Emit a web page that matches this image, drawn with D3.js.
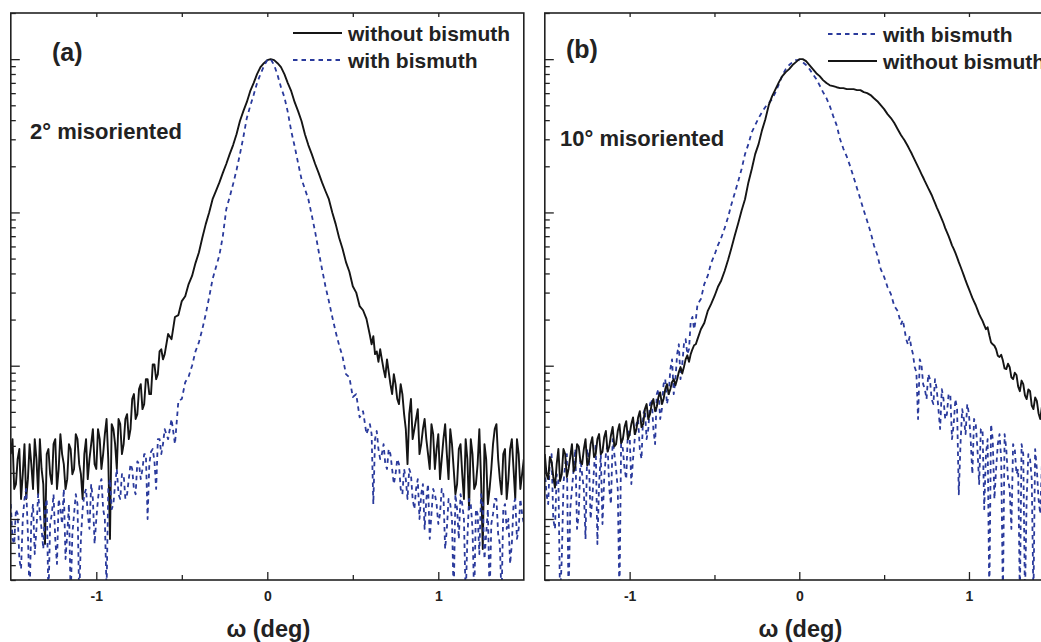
<!DOCTYPE html>
<html><head><meta charset="utf-8">
<script src="https://cdn.jsdelivr.net/npm/d3@7"></script>
<style>
body{margin:0;background:#fff;}
svg{display:block;font-family:"Liberation Sans",Arial,Helvetica,sans-serif;font-weight:bold;}
</style>
</head><body>
<svg id="chart" width="1041" height="642"></svg>
<script>
// omega sampling (deg): main grid every 0.02, plus extra tail samples at the odd hundredths
const omega = d3.range(151).map(i => Math.round((-1.5 + i * 0.02) * 100) / 100);
const omegaTails = d3.range(45).map(i => Math.round((-1.49 + i * 0.02) * 100) / 100)
  .concat(d3.range(45).map(i => Math.round((0.61 + i * 0.02) * 100) / 100));

// Panel (a) 2° misoriented
const noBismuthA = [
 2.65,1.57,2.46,1.35,3.08,1.82,2.28,3.32,1.45,2.12,
 0.687,2.86,1.69,3.32,2.12,2.65,1.57,3.08,1.96,3.58,
 2.28,1.35,3.32,2.46,3.86,2.12,3.32,2.65,4.49,0.741,
 3.86,2.12,4.16,3.08,4.83,3.86,6.53,4.83,7.58,5.62,
 8.17,6.53,10.2,8.81,12.8,11.9,16.1,14.9,20.8,21.4,
 26.4,28.4,34.1,38.5,46.7,54.8,68.4,83.9,100,122,
 138,157,181,207,240,275,324,395,458,524,
 618,698,798,886,941,985,1000,985,941,886,
 798,698,618,524,458,395,324,275,240,207,
 181,157,138,122,100,83.9,68.4,58,47.4,41,
 33,30,24.5,23,20.2,15.8,15.6,12.4,12.8,9.5,
 11.0,7.58,8.81,6.06,7.58,4.83,2.28,6.06,3.86,5.21,
 3.08,4.49,2.65,4.16,2.12,3.58,2.46,4.16,1.82,3.08,
 1.45,2.86,1.96,3.32,1.16,2.65,1.69,3.86,0.637,2.46,
 1.57,3.08,4.16,1.82,2.65,1.35,2.86,2.12,3.32,1.57,
 2.46];
const noBismuthATails = [
 3.32,1.69,2.86,1.96,1.35,3.08,1.57,2.46,3.32,1.69,
 2.65,1.96,3.08,1.57,3.58,2.28,1.82,2.86,2.12,3.32,
 1.96,2.65,1.82,3.08,2.28,3.86,2.12,3.58,2.46,4.16,
 3.08,4.49,2.65,4.49,3.32,6.06,4.49,7.04,5.21,8.17,
 6.53,10.2,8.17,12.4,11.0,
 13.8,11.9,10.6,11.0,8.4,9.1,6.53,7.58,5.62,6.53,
 3.86,4.83,3.32,4.49,2.65,3.86,3.32,2.12,3.58,2.86,
 1.82,3.32,2.65,3.86,2.12,1.69,3.08,1.35,2.46,3.32,
 1.57,2.28,1.82,3.08,1.25,2.12,3.86,2.46,1.45,2.86,
 1.82,3.32,1.35,2.65,1.96];
const withBismuthA = [
 1.25,0.687,1.08,0.472,1.35,0.798,1.00,0.591,1.45,0.861,
 1.16,0.30,1.08,0.741,1.35,0.928,0.548,1.25,0.798,1.45,
 0.30,1.16,1.57,0.861,1.35,1.00,1.69,1.16,0.34,1.82,
 1.25,2.12,1.35,1.96,1.45,2.28,1.57,2.38,1.82,2.65,
 1.00,2.75,2.38,3.32,2.65,3.86,3.32,4.49,3.08,5.9,
 6.06,7.8,8.5,10,12.4,14.2,17.3,21.7,28,36.7,
 44,52.7,70,105,126,153,189,240,310,412,
 494,583,698,798,900,985,1000,915,787,656,
 565,451,339,270,210,165,142,122,96,74.5,
 56,42.7,33,26.4,20.8,16.6,13.6,11.5,8.81,8.4,
 6.25,6.53,4.6,5.05,3.58,4.16,1.25,3.75,2.46,3.08,
 2.12,2.65,1.69,2.46,1.57,2.12,1.35,1.96,1.16,1.82,
 1.45,0.861,1.69,1.08,1.45,0.928,1.57,0.637,1.35,1.00,
 1.45,0.741,1.25,0.30,1.35,0.861,1.16,0.591,1.25,0.798,
 0.30,1.08,1.35,0.687,1.16,0.861,0.509,1.25,0.741,1.35,
 0.928];
const withBismuthATails = [
 0.741,1.16,0.548,1.00,1.57,0.30,1.25,0.861,1.08,0.637,
 1.35,0.928,1.45,0.509,1.16,1.57,0.798,0.30,1.08,1.25,
 0.741,1.45,1.08,1.69,0.687,1.35,1.82,1.00,1.57,1.16,
 1.69,1.45,1.96,1.35,1.82,2.12,1.45,2.28,2.12,2.65,
 2.28,2.86,1.57,3.32,3.08,
 3.58,3.32,2.86,2.65,2.28,2.86,2.12,1.96,2.28,1.45,
 1.82,2.12,1.35,1.57,1.00,1.69,1.35,0.741,1.57,1.25,
 1.08,1.45,0.861,1.25,0.30,1.16,1.45,1.00,0.741,1.25,
 0.30,1.08,1.45,0.548,1.16,0.928,1.35,0.798,0.30,1.25,
 1.00,0.687,1.35,0.861,1.08];

// Panel (b) 10° misoriented
const noBismuthB = [
 2.65,1.82,2.38,1.6,2.86,1.96,2.65,2.12,3.08,2.2,
 2.97,2.28,3.32,2.38,3.42,2.65,3.58,2.75,3.75,2.97,
 3.98,3.08,4.16,3.32,4.35,3.58,4.6,3.86,5.05,4.16,
 5.62,4.83,6.06,5.4,6.7,6.06,7.58,7.04,8.17,8.17,
 9.8,9.8,11.7,11.9,13.6,14.9,17.3,19,22.7,25.2,
 28.4,32.6,36,41.5,48.9,58.6,71,85,103,122,
 157,192,240,279,343,406,501,574,637,708,
 775,823,861,915,956,1000,1000,970,915,861,
 810,775,730,698,675,666,656,647,647,637,
 637,637,628,628,609,600,583,556,532,501,
 472,438,413,383,349,319,296,270,245,220,
 198,178,160,144,130,115,102,90.4,79,70,
 61,54.5,47.4,41.5,36,31.6,27.7,24.8,21.7,19.6,
 17.3,15.8,13.8,12.8,11.4,10.8,9.5,9.8,8.17,8.7,
 6.82,7.58,6.06,6.82,5.21,5.9,4.49,5.05,4.16,4.6,
 3.75];
const noBismuthBTails = [
 1.96,2.54,1.88,2.28,1.77,2.86,1.88,2.54,2.04,3.08,
 2.38,2.86,2.24,3.08,2.54,3.32,2.65,3.42,2.75,3.52,
 2.97,3.75,3.13,3.98,3.32,4.16,3.58,4.6,3.98,5.21,
 4.49,5.62,5.05,6.25,5.62,7.04,6.53,7.82,7.46,9.1,
 8.9,11.0,10.6,12.8,13.8,
 307,283,257,232,209,188,169,152,137,122,
 108,96,85,74.5,65.5,57.8,50.9,44.4,38.7,33.7,
 29.6,26.2,23.2,20.6,18.4,17.8,14.2,13.5,11.6,11.8,
 9.6,10.3,8.4,9.0,7.3,8.0,6.4,7.0,5.5,6.2,
 4.9,5.4,4.4,4.9,3.9];
const withBismuthB = [
 2.12,1.25,2.65,0.861,1.82,0.548,2.28,0.30,1.57,2.86,
 1.08,1.96,0.741,2.46,1.35,3.08,1.69,0.928,2.65,1.57,
 3.32,2.12,0.30,2.86,1.82,3.58,2.46,4.16,2.86,4.83,
 3.32,5.62,3.86,6.53,4.49,7.58,5.62,9.5,6.53,11.9,
 8.17,13.8,11.9,19.5,17.3,25.2,27.2,34.1,38.5,46.7,
 52.7,61,68.4,79,93,113,134,160,192,240,
 279,334,371,412,451,487,517,548,609,687,
 787,861,915,956,985,985,956,915,861,798,
 741,675,609,556,494,425,371,301,260,231,
 200,170,144,122,103,88,74.5,61,52.7,42.7,
 38,32.6,29.3,24.5,22.7,18.7,17.3,13.8,13.2,9.8,
 4.49,10.2,7.04,8.81,6.06,8.17,5.21,7.04,4.49,6.53,
 3.32,6.06,1.45,5.21,3.58,4.83,1.96,4.16,1.69,3.86,
 2.65,0.30,3.32,2.12,3.58,0.30,2.86,1.57,3.08,1.96,
 0.30,2.65,1.35,2.46,0.30,2.12,1.08,2.46,1.45,2.12,
 1.00];
const withBismuthBTails = [
 1.45,2.46,1.00,1.96,0.30,1.69,2.65,1.16,2.12,0.861,
 2.46,1.57,2.86,1.00,2.12,0.687,2.65,1.82,3.08,1.25,
 2.65,1.57,3.32,2.12,3.86,1.69,3.32,4.49,2.46,5.21,
 3.86,6.06,3.08,7.04,5.21,8.17,6.53,11.0,8.17,13.8,
 10.2,14.9,12.8,20.8,19.9,
 19.9,14.9,15.4,11.9,9.1,11.0,7.58,6.06,8.17,5.62,
 7.04,3.86,6.06,4.83,6.53,4.16,5.21,3.08,4.49,5.62,
 3.32,4.49,2.86,3.86,1.16,3.32,4.16,1.35,3.08,2.46,
 3.58,1.82,0.861,2.86,2.12,3.08,0.30,2.65,1.82,2.86,
 1.35,2.28,0.30,2.46,1.57];

const xTickValues = [-1, 0, 1];
const xTickLabels = ["-1", "0", "1"];
const xMinorValues = [-0.5, 0.5];
const yMajorValues = [1, 10, 100, 1000];
const xDomain = [-1.5, 1.5];
const yDomain = [0.4, 2000];

const seriesNames = ["without bismuth", "with bismuth"];
const BLACK = "#151515", BLUE = "#2a3a9c";

const svg = d3.select("#chart");

const panels = [
  { id: "a", left: 10.8, right: 523.8, label: "(a)", labelX: 52, labelY: 61,
    note: "2\u00b0 misoriented", noteX: 30, noteY: 139,
    order: [{name: seriesNames[0], data: noBismuthA, tails: noBismuthATails, kind: "solid"},
            {name: seriesNames[1], data: withBismuthA, tails: withBismuthATails, kind: "dash"}],
    legX: 293, legY: 33 },
  { id: "b", left: 544.8, right: 1053.8, label: "(b)", labelX: 566, labelY: 58,
    note: "10\u00b0 misoriented", noteX: 560, noteY: 146,
    order: [{name: seriesNames[1], data: withBismuthB, tails: withBismuthBTails, kind: "dash"},
            {name: seriesNames[0], data: noBismuthB, tails: noBismuthBTails, kind: "solid"}],
    legX: 828, legY: 34 }
];
const plotTop = 13, plotBottom = 580;

const yMinorValues = [];
[0.1, 1, 10, 100, 1000].forEach(dec => {
  for (let m = 2; m <= 9; m++) { const v = m * dec; if (v >= yDomain[0] && v <= yDomain[1]) yMinorValues.push(v); }
});

function styleLine(sel, kind) {
  if (kind === "solid") sel.attr("stroke", BLACK).attr("stroke-width", 1.9);
  else sel.attr("stroke", BLUE).attr("stroke-width", 1.8).attr("stroke-dasharray", "4.5,4");
  return sel;
}

panels.forEach(p => {
  const x = d3.scaleLinear().domain(xDomain).range([p.left, p.right]);
  const y = d3.scaleLog().domain(yDomain).range([plotBottom, plotTop]);
  const g = svg.append("g");

  g.append("clipPath").attr("id", "clip-" + p.id)
    .append("rect").attr("x", p.left).attr("y", plotTop)
    .attr("width", p.right - p.left).attr("height", plotBottom - plotTop);

  const line = d3.line().x(d => x(d[0])).y(d => y(d[1]));
  const plot = g.append("g").attr("clip-path", `url(#clip-${p.id})`);
  p.order.forEach(s => {
    const pts = omega.map((w, i) => [w, s.data[i]])
      .concat(omegaTails.map((w, i) => [w, s.tails[i]]))
      .sort((a, b) => a[0] - b[0]);
    styleLine(plot.append("path").datum(pts).attr("fill", "none")
      .attr("stroke-linejoin", "round").attr("d", line), s.kind);
  });

  const axStyle = a => { a.select(".domain").remove(); a.selectAll("line").attr("stroke", "#222").attr("stroke-width", 1.3); };
  g.append("g").attr("transform", `translate(${p.left},0)`)
    .call(d3.axisLeft(y).tickValues(yMajorValues).tickSize(-9).tickFormat("")).call(axStyle);
  g.append("g").attr("transform", `translate(${p.left},0)`)
    .call(d3.axisLeft(y).tickValues(yMinorValues).tickSize(-5).tickFormat("")).call(axStyle);
  const bx = g.append("g").attr("transform", `translate(0,${plotBottom})`)
    .call(d3.axisBottom(x).tickValues(xTickValues).tickSize(-8).tickPadding(11)
      .tickFormat((d, i) => xTickLabels[i])).call(axStyle);
  bx.selectAll("text").attr("font-size", 14).attr("font-weight", "bold")
    .attr("font-family", "'Liberation Sans', Arial, sans-serif").attr("fill", "#222");
  g.append("g").attr("transform", `translate(0,${plotBottom})`)
    .call(d3.axisBottom(x).tickValues(xMinorValues).tickSize(-5).tickFormat("")).call(axStyle);
  g.append("g").attr("transform", `translate(0,${plotTop})`)
    .call(d3.axisTop(x).tickValues(xTickValues.concat(xMinorValues)).tickSize(-4).tickFormat("")).call(axStyle);

  g.append("rect").attr("x", p.left).attr("y", plotTop)
    .attr("width", p.right - p.left).attr("height", plotBottom - plotTop)
    .attr("fill", "none").attr("stroke", "#222").attr("stroke-width", 1.6);

  g.append("text").attr("x", x(0) + 1).attr("y", 637).attr("text-anchor", "middle")
    .attr("font-size", 23.5).attr("fill", "#222").text("\u03c9 (deg)");
  g.append("text").attr("x", p.labelX).attr("y", p.labelY)
    .attr("font-size", 25).attr("fill", "#222").text(p.label);
  g.append("text").attr("x", p.noteX).attr("y", p.noteY)
    .attr("font-size", 22).attr("fill", "#222").text(p.note);

  p.order.forEach((s, i) => {
    const ly = p.legY + i * 27;
    styleLine(g.append("line").attr("x1", p.legX).attr("x2", p.legX + 49)
      .attr("y1", ly).attr("y2", ly), s.kind);
    g.append("text").attr("x", p.legX + 55).attr("y", ly + 8)
      .attr("font-size", 21).attr("fill", "#222").text(s.name);
  });
});
</script>
</body></html>
